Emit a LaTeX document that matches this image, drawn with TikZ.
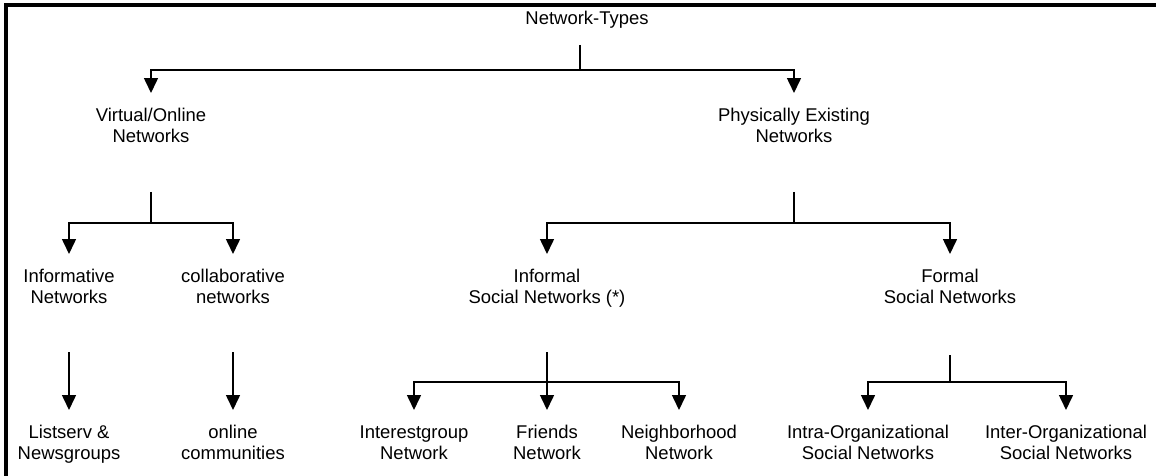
\documentclass[tikz,border=0pt]{standalone}
\usepackage{fontspec}
\setmainfont{Liberation Sans}
\usetikzlibrary{arrows.meta}
\tikzset{
    lbl/.style={align=center, anchor=north, inner xsep=0pt, inner ysep=0.3cm,
                font=\fontsize{10.5}{12}\selectfont},
    link/.style={line width=0.9pt},
    stub/.style={line width=1.6pt},
    arr/.style={link, -{Triangle[width=0.28cm, length=0.3cm]}}
}
\begin{document}
\begin{tikzpicture}[x=0.02cm, y=-0.02cm]
    \useasboundingbox (0, 0) rectangle (1156, 476);
    \draw[line width=1.8pt] (6, 476) |- (1156, 5);

    \node (types) [lbl, anchor=base] at (587, 25) {Network-Types};
    \node (virt) [lbl] at (151, 93) {Virtual/Online\\Networks};
    \node (phys) [lbl] at (794, 93) {Physically Existing\\Networks};
    \node (info) [lbl] at (69, 254) {Informative\\Networks};
    \node (collab) [lbl] at (233, 254) {collaborative\\networks};
    \node (informal) [lbl] at (547, 254) {Informal\\Social Networks (*)};
    \node (formal) [lbl] at (950, 254) {Formal\\Social Networks};
    \node (list) [lbl] at (69, 410) {Listserv \&\\Newsgroups};
    \node (online) [lbl] at (233, 410) {online\\communities};
    \node (interest) [lbl] at (414, 410) {Interestgroup\\Network};
    \node (friends) [lbl] at (547, 410) {Friends\\Network};
    \node (neigh) [lbl] at (679, 410) {Neighborhood\\Network};
    \node (intra) [lbl] at (868, 410) {Intra-Organizational\\Social Networks};
    \node (inter) [lbl] at (1066, 410) {Inter-Organizational\\Social Networks};

    \coordinate (t0) at (580, 45);
    \coordinate (tj) at (580, 70);
    \coordinate (v0) at (151, 192);
    \coordinate (vj) at (151, 223);
    \coordinate (p0) at (794, 192);
    \coordinate (pj) at (794, 223);
    \coordinate (i0) at (69, 352);
    \coordinate (c0) at (233, 352);
    \coordinate (s0) at (547, 352);
    \coordinate (sj) at (547, 382);
    \coordinate (f0) at (950, 355);
    \coordinate (fj) at (950, 382);

    \draw[link] (t0) -- (tj);
    \draw[arr] (tj) -| (virt);
    \draw[arr] (tj) -| (phys);

    \draw[stub] (v0) -- (vj);
    \draw[arr] (vj) -| (info);
    \draw[arr] (vj) -| (collab);
    \draw[stub] (p0) -- (pj);
    \draw[arr] (pj) -| (informal);
    \draw[arr] (pj) -| (formal);

    \draw[arr] (i0) -- (list);
    \draw[arr] (c0) -- (online);
    \draw[link] (s0) -- (sj);
    \draw[arr] (sj) -| (interest);
    \draw[arr] (sj) -- (friends);
    \draw[arr] (sj) -| (neigh);
    \draw[stub] (f0) -- (fj);
    \draw[arr] (fj) -| (intra);
    \draw[arr] (fj) -| (inter);
\end{tikzpicture}
\end{document}
